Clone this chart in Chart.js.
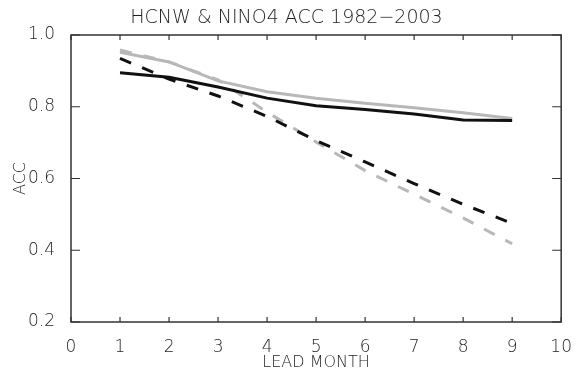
<!DOCTYPE html>
<html>
<head>
<meta charset="utf-8">
<script src="https://cdn.jsdelivr.net/npm/chart.js@4.4.1/dist/chart.umd.min.js"></script>
<style>
  html, body { margin: 0; padding: 0; background: #fff; }
  canvas { display: block; }
</style>
</head>
<body>
<canvas id="chartCanvas" width="579" height="373"></canvas>
<script>
// lead months (x) and ACC values
const leadMonths = [1, 2, 3, 4, 5, 6, 7, 8, 9];
const hcnwSolid = [0.895, 0.882, 0.855, 0.824, 0.803, 0.792, 0.780, 0.763, 0.762];
const nino4Solid = [0.952, 0.925, 0.872, 0.842, 0.824, 0.810, 0.797, 0.783, 0.767];
const hcnwDashed = [0.935, 0.877, 0.830, 0.773, 0.706, 0.646, 0.586, 0.528, 0.475];
const nino4Dashed = [0.958, 0.925, 0.875, 0.785, 0.702, 0.622, 0.556, 0.490, 0.418];
const xTicks = [0, 1, 2, 3, 4, 5, 6, 7, 8, 9, 10];
const yTicks = [0.2, 0.4, 0.6, 0.8, 1.0];

const BLACK = '#111111';
const GRAY = '#b8b8b8';
const AXIS = '#333333';
const TEXT = '#1e1e1e';
const FONT = 'DejaVu Sans';

function toPoints(values) {
    return leadMonths.map((m, i) => ({ x: m, y: values[i] }));
}

// frame + inward tick marks on all four sides
const frameTicks = {
    id: 'frameTicks',
    afterDraw(chart) {
        const ctx = chart.ctx;
        const area = chart.chartArea;
        const xs = chart.scales.x;
        const ys = chart.scales.y;
        ctx.save();
        ctx.strokeStyle = AXIS;
        ctx.lineWidth = 1.5;
        ctx.strokeRect(area.left, area.top, area.right - area.left, area.bottom - area.top);
        ctx.lineWidth = 1.2;
        ctx.beginPath();
        xTicks.forEach(v => {
            const px = xs.getPixelForValue(v);
            ctx.moveTo(px, area.bottom);
            ctx.lineTo(px, area.bottom - 5);
            ctx.moveTo(px, area.top);
            ctx.lineTo(px, area.top + 5);
        });
        yTicks.forEach(v => {
            const py = ys.getPixelForValue(v);
            ctx.moveTo(area.left, py);
            ctx.lineTo(area.left + 9, py);
            ctx.moveTo(area.right, py);
            ctx.lineTo(area.right - 9, py);
        });
        ctx.stroke();
        ctx.restore();
    }
};

const canvas = document.getElementById('chartCanvas');
new Chart(canvas, {
    type: 'line',
    data: {
        datasets: [
            {
                label: 'HCNW',
                data: toPoints(hcnwSolid),
                borderColor: BLACK,
                borderWidth: 3
            },
            {
                label: 'HCNW (dashed)',
                data: toPoints(hcnwDashed),
                borderColor: BLACK,
                borderWidth: 3,
                borderDash: [12, 12]
            },
            {
                label: 'NINO4',
                data: toPoints(nino4Solid),
                borderColor: GRAY,
                borderWidth: 3
            },
            {
                label: 'NINO4 (dashed)',
                data: toPoints(nino4Dashed),
                borderColor: GRAY,
                borderWidth: 3,
                borderDash: [12, 12]
            }
        ]
    },
    options: {
        responsive: false,
        animation: false,
        layout: {
            padding: { left: 11, right: 17, top: 0, bottom: 0 }
        },
        elements: {
            point: { radius: 0 },
            line: { tension: 0 }
        },
        plugins: {
            legend: { display: false },
            tooltip: { enabled: false },
            title: {
                display: true,
                text: 'HCNW & NINO4 ACC 1982\u22122003',
                color: TEXT,
                font: { family: FONT, size: 19, weight: '200' },
                padding: { top: 7, bottom: 5.2 }
            }
        },
        scales: {
            x: {
                type: 'linear',
                min: 0,
                max: 10,
                grid: { display: false },
                border: { display: false },
                afterFit: scale => { scale.height = 51; },
                afterBuildTicks: scale => { scale.ticks = xTicks.map(v => ({ value: v })); },
                ticks: {
                    color: TEXT,
                    padding: 7,
                    font: { family: FONT, size: 17, weight: '200' },
                    callback: v => String(v)
                },
                title: {
                    display: true,
                    text: 'LEAD MONTH',
                    color: TEXT,
                    padding: { top: 0, bottom: 1 },
                    font: { family: FONT, size: 16, weight: '200' }
                }
            },
            y: {
                type: 'linear',
                min: 0.2,
                max: 1.0,
                grid: { display: false },
                border: { display: false },
                afterFit: scale => { scale.width = 60; },
                afterBuildTicks: scale => { scale.ticks = yTicks.map(v => ({ value: v })); },
                ticks: {
                    color: TEXT,
                    padding: 8,
                    font: { family: FONT, size: 17, weight: '200' },
                    callback: v => v.toFixed(1)
                },
                title: {
                    display: true,
                    text: 'ACC',
                    color: TEXT,
                    padding: { top: 0, bottom: 2 },
                    font: { family: FONT, size: 16, weight: '200' }
                }
            }
        }
    },
    plugins: [frameTicks]
});
</script>
</body>
</html>
